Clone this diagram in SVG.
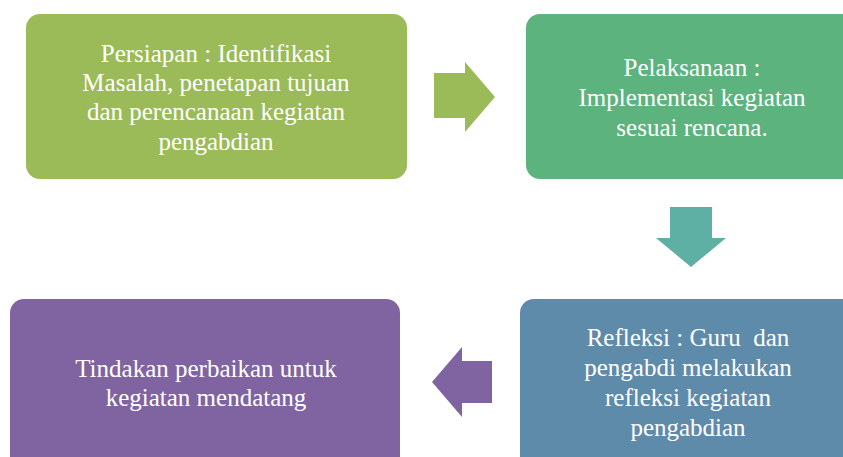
<svg xmlns="http://www.w3.org/2000/svg" width="843" height="457" viewBox="0 0 843 457">
<rect width="843" height="457" fill="#ffffff"/>
<g id="connectors">
<polygon points="434,73 465,73 465,62 495,97 465,132 465,118 434,118" fill="#9bbb59"/>
<polygon points="670,207 712,207 712,238 726,238 691,267 656,238 670,238" fill="#5fb0a4"/>
<polygon points="492,361 462,361 462,347 432,382 462,417 462,403 492,403" fill="#8064a2"/>
</g>
<g id="node1">
<rect x="26" y="14" width="381" height="165" rx="14" fill="#9bbb59"/>
<text x="216" y="62" style="font-family:serif;font-size:25px;fill:#ffffff;text-anchor:middle">Persiapan : Identifikasi</text>
<text x="216" y="91" style="font-family:serif;font-size:25px;fill:#ffffff;text-anchor:middle">Masalah, penetapan tujuan</text>
<text x="216" y="120" style="font-family:serif;font-size:25px;fill:#ffffff;text-anchor:middle">dan perencanaan kegiatan</text>
<text x="216" y="150" style="font-family:serif;font-size:25px;fill:#ffffff;text-anchor:middle">pengabdian</text>
</g>
<g id="node2">
<rect x="526" y="14" width="340" height="165" rx="14" fill="#5db37e"/>
<text x="692" y="76" style="font-family:serif;font-size:25px;fill:#ffffff;text-anchor:middle">Pelaksanaan :</text>
<text x="692" y="106" style="font-family:serif;font-size:25px;fill:#ffffff;text-anchor:middle">Implementasi kegiatan</text>
<text x="692" y="136" style="font-family:serif;font-size:25px;fill:#ffffff;text-anchor:middle">sesuai rencana.</text>
</g>
<g id="node3">
<rect x="520" y="299" width="340" height="180" rx="14" fill="#5f8bab"/>
<text x="688" y="346" style="font-family:serif;font-size:25px;fill:#ffffff;text-anchor:middle;white-space:pre">Refleksi : Guru  dan</text>
<text x="688" y="376" style="font-family:serif;font-size:25px;fill:#ffffff;text-anchor:middle">pengabdi melakukan</text>
<text x="688" y="406" style="font-family:serif;font-size:25px;fill:#ffffff;text-anchor:middle">refleksi kegiatan</text>
<text x="688" y="436" style="font-family:serif;font-size:25px;fill:#ffffff;text-anchor:middle">pengabdian</text>
</g>
<g id="node4">
<rect x="10" y="299" width="390" height="180" rx="14" fill="#8064a2"/>
<text x="206" y="377" style="font-family:serif;font-size:25px;fill:#ffffff;text-anchor:middle">Tindakan perbaikan untuk</text>
<text x="206" y="406" style="font-family:serif;font-size:25px;fill:#ffffff;text-anchor:middle">kegiatan mendatang</text>
</g>
</svg>
